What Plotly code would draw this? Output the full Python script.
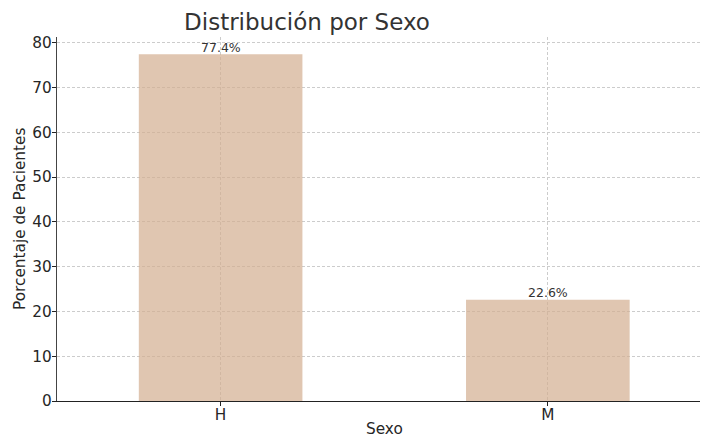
import plotly.graph_objects as go

categories = ["H", "M"]
values = [77.4, 22.6]
labels = [f"{v:.1f}%" for v in values]
y_ticks = [0, 10, 20, 30, 40, 50, 60, 70, 80]

font = "DejaVu Sans"
W, H = 701, 440
ML, MR, MT, MB = 57, 1, 37, 39

fig = go.Figure(go.Bar(
    x=categories, y=values, width=0.5,
    marker=dict(color="#d3ae90", line=dict(width=0), opacity=0.7),
))

for c, v, t in zip(categories, values, labels):
    fig.add_annotation(x=c, y=v, text=t, showarrow=False, yanchor="middle", yshift=7,
                       font=dict(family=font, size=12.5, color="#333333"))

fig.add_annotation(xref="paper", yref="paper", x=(20 - ML) / (W - ML - MR), y=0.5,
                   text="Porcentaje de Pacientes", textangle=-90, showarrow=False,
                   xanchor="center", yanchor="middle", borderpad=0,
                   font=dict(family=font, size=15.3, color="#262626"))
fig.add_annotation(xref="paper", yref="paper", x=(221 + 327 / 2 - ML) / (W - ML - MR),
                   y=-(439 - (H - MB)) / (H - MT - MB),
                   text="Sexo", showarrow=False, xanchor="center", yanchor="bottom", borderpad=0,
                   font=dict(family=font, size=15.3, color="#262626"))

fig.update_layout(
    width=W, height=H,
    margin=dict(l=ML, r=MR, t=MT, b=MB, autoexpand=False),
    paper_bgcolor="white", plot_bgcolor="white",
    font=dict(family=font, color="#262626"),
    title=dict(text="Distribución por Sexo", font=dict(family=font, size=23, color="#333333"),
               x=307 / W, xanchor="center", xref="container", y=1 - 22 / H, yanchor="middle"),
    showlegend=False,
)
fig.update_xaxes(
    range=[-0.5, 1.465], automargin=False,
    tickfont=dict(size=15.3), ticklabelstandoff=-4,
    showline=True, linecolor="#222222", linewidth=1.2,
    ticks="outside", ticklen=4, tickcolor="#222222",
    showgrid=True, gridcolor="#cccccc", griddash="3px,2px", gridwidth=0.8,
)
fig.update_yaxes(
    range=[0, 81.27], automargin=False,
    tickvals=y_ticks,
    tickfont=dict(size=15.3), ticklabelstandoff=-3,
    showline=True, linecolor="#444444", linewidth=1.2,
    ticks="outside", ticklen=4, tickcolor="#222222",
    showgrid=True, gridcolor="#cccccc", griddash="3px,2px", gridwidth=0.8,
    zeroline=False,
)

fig.write_html("out.html", config={"displayModeBar": False},
               post_script="document.body.style.margin='0';")
